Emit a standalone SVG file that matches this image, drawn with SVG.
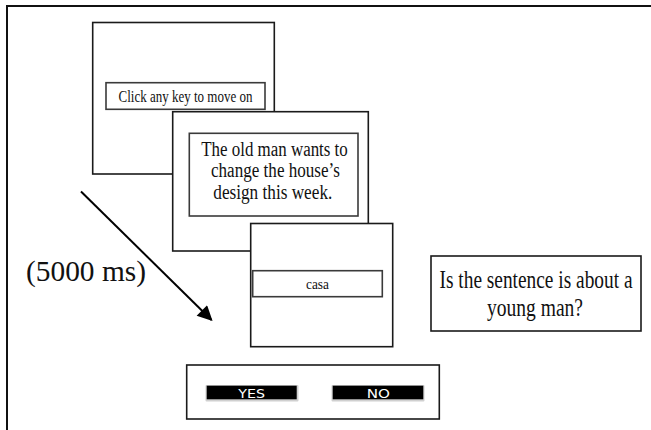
<svg xmlns="http://www.w3.org/2000/svg" width="651" height="430" viewBox="0 0 651 430">
<style>
.frame{fill:none;stroke:#111;stroke-width:2}
.screen{fill:#fff;stroke:#1a1a1a;stroke-width:1.6}
.inner{fill:#fff;stroke:#3a3a3a;stroke-width:1.6}
.serif{font-family:"Liberation Serif","Times New Roman",serif;fill:#111;text-anchor:middle}
.btn{fill:#000}
.shadow{fill:#d0d0d0}
.btxt{font-family:"DejaVu Sans","Open Sans",sans-serif;font-size:13px;fill:#fff;text-anchor:middle}
.conn{stroke:#000;stroke-width:2;fill:none}
</style>
<defs>
<marker id="ah" viewBox="0 0 10 10" refX="9" refY="5" markerWidth="8" markerHeight="7.5" markerUnits="strokeWidth" orient="auto">
<path d="M0,0 L10,5 L0,10 Z" fill="#000"/>
</marker>
</defs>
<rect width="651" height="430" fill="#fff"/>
<path class="frame" d="M7,440 L7,6 L660,6"/>
<g id="screen1">
<rect class="screen" x="92.7" y="22.5" width="181.6" height="151.5"/>
<rect class="inner" x="106" y="82.7" width="159" height="26.6"/>
<text class="serif" x="185.5" y="102" font-size="17" textLength="134" lengthAdjust="spacingAndGlyphs">Click any key to move on</text>
</g>
<g id="screen2">
<rect class="screen" x="172.7" y="111.7" width="195.6" height="139.3"/>
<rect class="inner" x="189.3" y="133.3" width="168.7" height="82.7"/>
<text class="serif" x="274.5" y="155.5" font-size="20" textLength="146.6" lengthAdjust="spacingAndGlyphs">The old man wants to</text>
<text class="serif" x="275.5" y="177" font-size="20" textLength="129" lengthAdjust="spacingAndGlyphs">change the house’s</text>
<text class="serif" x="272.8" y="198.5" font-size="20" textLength="119" lengthAdjust="spacingAndGlyphs">design this week.</text>
</g>
<g id="screen3">
<rect class="screen" x="250.7" y="223.5" width="142" height="123.2"/>
<rect class="inner" x="252.7" y="270.7" width="129.6" height="26"/>
<text class="serif" x="317.5" y="288.5" font-size="15" textLength="23" lengthAdjust="spacingAndGlyphs">casa</text>
</g>
<g id="question">
<rect class="screen" x="431" y="256" width="210" height="75"/>
<text class="serif" x="536" y="287.5" font-size="25" textLength="193" lengthAdjust="spacingAndGlyphs">Is the sentence is about a</text>
<text class="serif" x="535" y="316" font-size="25" textLength="96" lengthAdjust="spacingAndGlyphs">young man?</text>
</g>
<g id="response">
<rect class="screen" x="186.7" y="365" width="252.6" height="54"/>
<rect class="shadow" x="205.5" y="385" width="93" height="16.5" rx="1"/>
<rect class="btn" x="206.7" y="385.7" width="90" height="13.6"/>
<text class="btxt" x="251.7" y="397.5" textLength="26.7" lengthAdjust="spacingAndGlyphs">YES</text>
<rect class="shadow" x="331.5" y="385" width="93" height="16.5" rx="1"/>
<rect class="btn" x="332.7" y="385.7" width="90.6" height="13.6"/>
<text class="btxt" x="378.3" y="397.5" textLength="23.3" lengthAdjust="spacingAndGlyphs">NO</text>
</g>
<g id="timing">
<text class="serif" x="86" y="281" font-size="30" textLength="120" lengthAdjust="spacingAndGlyphs">(5000 ms)</text>
</g>
<g id="connectors">
<line class="conn" x1="81" y1="191.5" x2="211.5" y2="320" marker-end="url(#ah)"/>
</g>
</svg>
